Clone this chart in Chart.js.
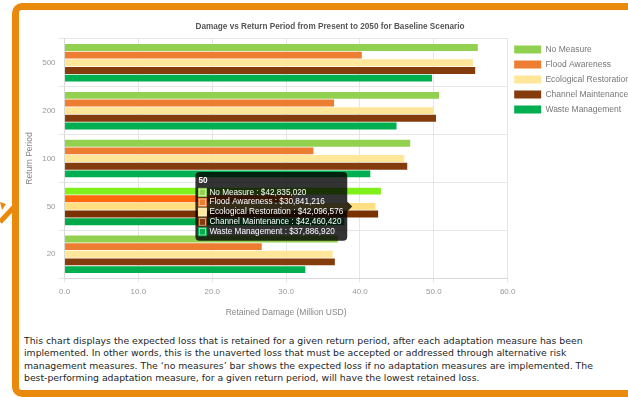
<!DOCTYPE html>
<html>
<head>
<meta charset="utf-8">
<script src="https://cdn.jsdelivr.net/npm/chart.js@4/dist/chart.umd.min.js"></script>
<style>
  html, body { margin: 0; padding: 0; }
  body { width: 628px; height: 397px; overflow: hidden; background: #fff; position: relative; }
  .frame {
    position: absolute; left: 12px; top: 3px; width: 700px; height: 380px;
    border: 7px solid #ea8a0c; border-radius: 10px; background: #fff;
  }
  .chart-box { position: absolute; left: 20px; top: 12px; width: 620px; height: 310px; }
  .note {
    position: absolute; left: 24px; top: 335px; width: 610px; margin: 0;
    font-family: "DejaVu Sans", Verdana, sans-serif; font-size: 9.3px; line-height: 12.3px;
    color: #1e1e1e; white-space: nowrap;
  }
  svg.arrow { position: absolute; left: 0; top: 190px; }
</style>
</head>
<body>
<div class="frame"></div>
<svg class="arrow" width="20" height="40" viewBox="0 0 20 40">
  <path d="M0 32 L14 17" stroke="#ea8a0c" stroke-width="5" fill="none"/>
  <path d="M0 12 L6 14 L2 20 Z" fill="#ea8a0c"/>
</svg>
<div class="chart-box"><canvas id="c" width="620" height="310"></canvas></div>
<p class="note">This chart displays the expected loss that is retained for a given return period, after each adaptation measure has been<br>implemented. In other words, this is the unaverted loss that must be accepted or addressed through alternative risk<br>management measures. The ‘no measures’ bar shows the expected loss if no adaptation measures are implemented. The<br>best-performing adaptation measure, for a given return period, will have the lowest retained loss.</p>
<script>
// Return periods (years) shown on the category axis
const returnPeriods = ['500', '200', '100', '50', '20'];

// Retained damage per measure, in million USD
const noMeasure             = [55.95, 50.70, 46.80, 42.835020, 37.00];
const floodAwareness        = [40.25, 36.50, 33.70, 30.841216, 26.70];
const ecologicalRestoration = [55.30, 50.00, 46.00, 42.096576, 36.30];
const channelMaintenance    = [55.60, 50.30, 46.40, 42.460420, 36.60];
const wasteManagement       = [49.75, 44.95, 41.40, 37.886920, 32.60];

// Damage axis range
const damageMin = 0;
const damageMax = 60;
const damageStep = 10;

const font = "'Liberation Sans', Arial, sans-serif";

const series = [
  { label: 'No Measure',             data: noMeasure,             color: '#92d050', hover: '#80f01a' },
  { label: 'Flood Awareness',        data: floodAwareness,        color: '#ed7d31', hover: '#ff6a0a' },
  { label: 'Ecological Restoration', data: ecologicalRestoration, color: '#ffe699', hover: '#ffdf80' },
  { label: 'Channel Maintenance',    data: channelMaintenance,    color: '#843c0c', hover: '#7a3200' },
  { label: 'Waste Management',       data: wasteManagement,       color: '#00b050', hover: '#00a84a' }
];

const chart = new Chart(document.getElementById('c'), {
  type: 'bar',
  data: {
    labels: returnPeriods,
    datasets: series.map(s => ({
      label: s.label,
      data: s.data,
      backgroundColor: s.color,
      hoverBackgroundColor: s.hover,
      borderColor: s.color,
      hoverBorderColor: s.hover,
      borderWidth: 0,
      categoryPercentage: 0.8,
      barPercentage: 0.9
    }))
  },
  options: {
    indexAxis: 'y',
    responsive: false,
    devicePixelRatio: 1,
    animation: false,
    layout: { padding: 0 },
    interaction: { mode: 'index', intersect: false },
    scales: {
      x: {
        min: damageMin, max: damageMax,
        ticks: {
          stepSize: damageStep,
          color: '#999', font: { family: font, size: 8 }, padding: 5,
          callback: v => Number(v).toFixed(1)
        },
        grid: { color: '#e6e6e6', tickLength: 4 },
        border: { color: '#d9d9d9' },
        title: {
          display: true, text: 'Retained Damage (Million USD)',
          color: '#888', font: { family: font, size: 8.5 }, padding: { top: 6, bottom: 4 }
        }
      },
      y: {
        ticks: { color: '#999', font: { family: font, size: 8 }, padding: 3 },
        grid: { color: '#e6e6e6', tickLength: 6 },
        border: { color: '#d9d9d9' },
        title: {
          display: true, text: 'Return Period',
          color: '#888', font: { family: font, size: 8.5 }, padding: { top: 5, bottom: 4 }
        }
      }
    },
    plugins: {
      title: {
        display: true,
        text: 'Damage vs Return Period from Present to 2050 for Baseline Scenario',
        color: '#555', font: { family: font, size: 8.2, weight: 'bold' },
        padding: { top: 10, bottom: 7 }
      },
      legend: {
        position: 'right', align: 'start', fullSize: false,
        labels: {
          boxWidth: 27, boxHeight: 8, padding: 6.5,
          color: '#777', font: { family: font, size: 8.5 }
        }
      },
      tooltip: {
        mode: 'index', intersect: false,
        backgroundColor: 'rgba(0,0,0,0.8)',
        titleFont: { family: font, size: 8.2, weight: 'bold' },
        bodyFont: { family: font, size: 8.2 },
        titleMarginBottom: 1.5, bodySpacing: 0,
        padding: { left: 3, right: 4, top: 4, bottom: 4 },
        cornerRadius: 4, caretSize: 5, boxWidth: 8, boxHeight: 8, boxPadding: 1,
        callbacks: {
          label: ctx => ctx.dataset.label + ' : $' + Math.round(ctx.raw * 1e6).toLocaleString('en-US')
        }
      }
    }
  }
});

// Highlight the 50-year return period and show its tooltip
const activeIndex = returnPeriods.indexOf('50');
const active = series.map((s, i) => ({ datasetIndex: i, index: activeIndex }));
chart.setActiveElements(active);
chart.tooltip.setActiveElements(active, { x: 0, y: 0 });
chart.update();
</script>
</body>
</html>
